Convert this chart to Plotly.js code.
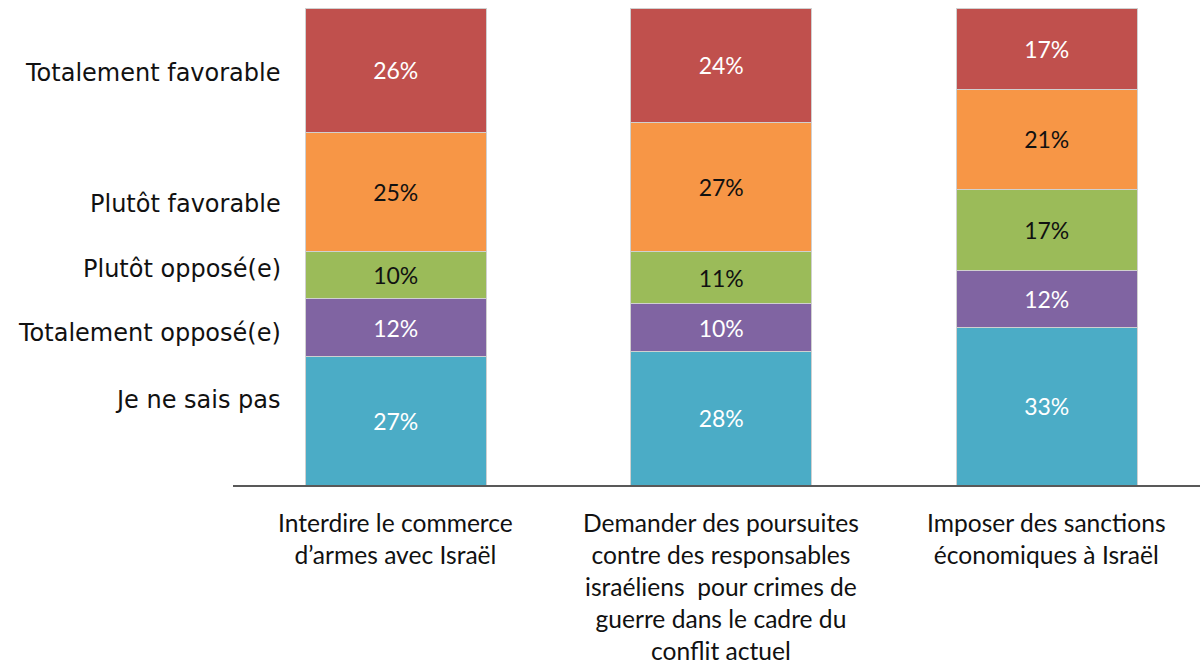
<!DOCTYPE html>
<html>
<head>
<meta charset="utf-8">
<script src="https://cdn.plot.ly/plotly-3.0.1.min.js"></script>
<style>html,body{margin:0;padding:0;background:#fff;}#chart{width:1200px;height:667px;}</style>
</head>
<body>
<div id="chart"></div>
<script>
const categories = [
  "Interdire le commerce<br>d’armes avec Israël",
  "Demander des poursuites<br>contre des responsables<br>israéliens  pour crimes de<br>guerre dans le cadre du<br>conflit actuel",
  "Imposer des sanctions<br>économiques à Israël"
];
const seriesNames = ["Je ne sais pas", "Totalement opposé(e)", "Plutôt opposé(e)", "Plutôt favorable", "Totalement favorable"];
const jeNeSaisPas = [27, 28, 33];
const totalementOppose = [12, 10, 12];
const plutotOppose = [10, 11, 17];
const plutotFavorable = [25, 27, 21];
const totalementFavorable = [26, 24, 17];
// left-side label anchor heights (percent scale)
const labelLevels = [17.8, 31.9, 45.3, 58.9, 86.4];

const series = [jeNeSaisPas, totalementOppose, plutotOppose, plutotFavorable, totalementFavorable];
const colors = ["#4BACC6", "#8064A2", "#9BBB59", "#F79646", "#C0504D"];
const textColors = ["#ffffff", "#ffffff", "#111111", "#111111", "#ffffff"];
const xIdx = categories.map((c, i) => i);

const traces = series.map((vals, s) => ({
  type: "bar",
  name: seriesNames[s],
  x: xIdx,
  y: vals,
  width: 0.556,
  marker: {color: colors[s], line: {color: "#d0d0d0", width: 1}},
  text: vals.map(v => v + "%"),
  textposition: "inside",
  insidetextanchor: "middle",
  constraintext: "none",
  textfont: {family: "Lato, sans-serif", size: 23, color: textColors[s]},
  hoverinfo: "skip"
}));

const annotations = [];
seriesNames.forEach((n, s) => {
  annotations.push({
    xref: "paper", yref: "y", x: 0.0517, y: labelLevels[s],
    xanchor: "right", yanchor: "middle", showarrow: false,
    text: n, font: {family: "'DejaVu Sans', sans-serif", size: 24, color: "#111"}
  });
});
categories.forEach((c, i) => {
  annotations.push({
    xref: "x", yref: "y", x: i, y: 0,
    xanchor: "center", yanchor: "top", yshift: -21, showarrow: false,
    align: "center",
    text: c, font: {family: "Lato, sans-serif", size: 24.6, color: "#111"}
  });
});

const layout = {
  width: 1200, height: 667,
  margin: {l: 233, r: 0, t: 8, b: 182},
  barmode: "stack",
  showlegend: false,
  paper_bgcolor: "#fff", plot_bgcolor: "#fff",
  xaxis: {range: [-0.5, 2.471], showticklabels: false, ticks: "", showgrid: false, zeroline: false,
          showline: true, linecolor: "#595959", linewidth: 2, fixedrange: true},
  yaxis: {range: [0, 100], visible: false, showgrid: false, zeroline: false, fixedrange: true},
  annotations: annotations
};

Plotly.newPlot("chart", traces, layout, {displayModeBar: false, staticPlot: true});
</script>
</body>
</html>
